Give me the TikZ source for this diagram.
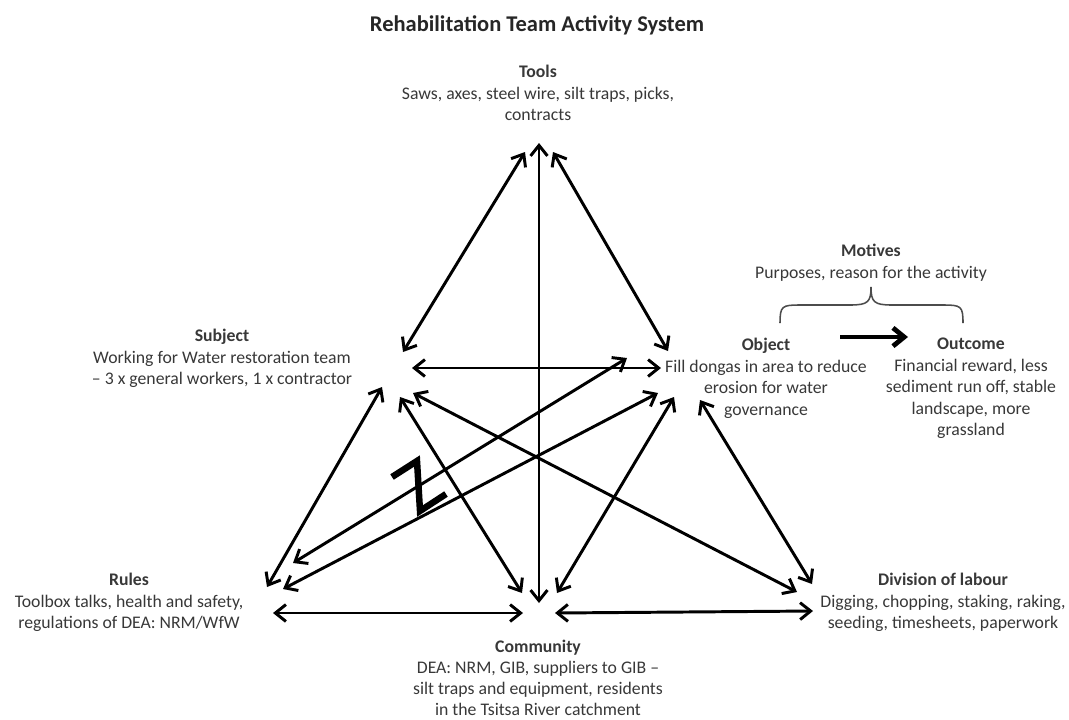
\documentclass[tikz,border=0pt]{standalone}
\usepackage{fontspec}
\setmainfont{Carlito}
\usetikzlibrary{arrows.meta}
\tikzset{
    vertex/.style={
        align=center,
        anchor=north,
        inner sep=0pt,
        text=black!78,
        font=\fontsize{12.6}{15.3}\selectfont
    },
    heading/.style={
        inner sep=0pt,
        text=black!85,
        font=\fontsize{16}{19}\selectfont\bfseries
    },
    link/.style={
        draw,
        {Straight Barb[length=7.5pt,width=12pt]}-{Straight Barb[length=7.5pt,width=12pt]},
        line width=2.1pt
    },
    result/.style={
        draw,
        -{Straight Barb[length=8pt,width=13pt]},
        line width=3.4pt
    },
    bracket/.style={
        draw=black!70,
        line width=1.1pt
    },
    clash/.style={
        draw,
        line width=4.6pt
    }
}

\begin{document}
\begin{tikzpicture}[x=0.025cm, y=-0.025cm]
        \useasboundingbox (0,0) rectangle (1069,719);

        \node[heading] (title) at (537,25) {Rehabilitation Team Activity System};

        \node[vertex] (tools) at (538,65) {\textbf{Tools}\\Saws, axes, steel wire, silt traps, picks,\\contracts};
        \node[vertex] (subject) at (222,329) {\textbf{Subject}\\Working for Water restoration team\\– 3 x general workers, 1 x contractor};
        \node[vertex] (object) at (766,338) {\textbf{Object}\\Fill dongas in area to reduce\\erosion for water\\governance};
        \node[vertex] (motives) at (871,244) {\textbf{Motives}\\Purposes, reason for the activity};
        \node[vertex] (outcome) at (971,338) {\textbf{Outcome}\\Financial reward, less\\sediment run off, stable\\landscape, more\\grassland};
        \node[vertex] (rules) at (129,573) {\textbf{Rules}\\Toolbox talks, health and safety,\\regulations of DEA: NRM/WfW};
        \node[vertex, font=\fontsize{12.6}{14.8}\selectfont] (community) at (538,640) {\textbf{Community}\\DEA: NRM, GIB, suppliers to GIB –\\silt traps and equipment, residents\\in the Tsitsa River catchment};
        \node[vertex] (division) at (943,573) {\textbf{Division of labour}\\Digging, chopping, staking, raking,\\seeding, timesheets, paperwork};

        % arrow ends round each corner of the triangle
        \coordinate (toolsS) at (525,152);
        \coordinate (toolsC) at (539,143);
        \coordinate (toolsO) at (553,152);
        \coordinate (subjT) at (403,352);
        \coordinate (subjO) at (412,368);
        \coordinate (subjR) at (382,387);
        \coordinate (subjC) at (400,397);
        \coordinate (subjD) at (413,393);
        \coordinate (objT) at (668,351);
        \coordinate (objS) at (661,368);
        \coordinate (objR) at (627,358);
        \coordinate (objRb) at (658,393);
        \coordinate (objC) at (674,397);
        \coordinate (objD) at (700,400);
        \coordinate (rulesS) at (267,587);
        \coordinate (rulesO) at (293,563);
        \coordinate (rulesOb) at (283,589);
        \coordinate (rulesC) at (273,613);
        \coordinate (commT) at (539,603);
        \coordinate (commS) at (522,593);
        \coordinate (commO) at (557,593);
        \coordinate (commR) at (523,613);
        \coordinate (commD) at (555,613);
        \coordinate (divS) at (797,592);
        \coordinate (divO) at (812,584);
        \coordinate (divC) at (813,611);
        \coordinate (objOut) at (840,337);
        \coordinate (outIn) at (908,337);

        \path[link] (toolsS) -- (subjT);
        \path[link] (toolsC) -- (commT);
        \path[link] (toolsO) -- (objT);
        \path[link] (subjO) -- (objS);
        \path[link] (subjR) -- (rulesS);
        \path[link] (subjC) -- (commS);
        \path[link] (subjD) -- (divS);
        \path[link] (rulesO) -- (objR);
        \path[link] (rulesOb) -- (objRb);
        \path[link] (objC) -- (commO);
        \path[link] (objD) -- (divO);
        \path[link] (rulesC) -- (commR);
        \path[link] (commD) -- (divC);
        \path[result] (objOut) -- (outIn);

        % brace under the motives
        \path[bracket] (780,323) .. controls (780,306) and (782,305) .. (800,305) -- (850,305)
            .. controls (868,305) and (871,302) .. (871,287)
            .. controls (871,302) and (874,305) .. (892,305) -- (943,305)
            .. controls (961,305) and (963,306) .. (963,323);

        % contradiction mark
        \path[clash] (392,477) -- (417,461) -- (420,511) -- (446,494);
    \end{tikzpicture}
\end{document}
